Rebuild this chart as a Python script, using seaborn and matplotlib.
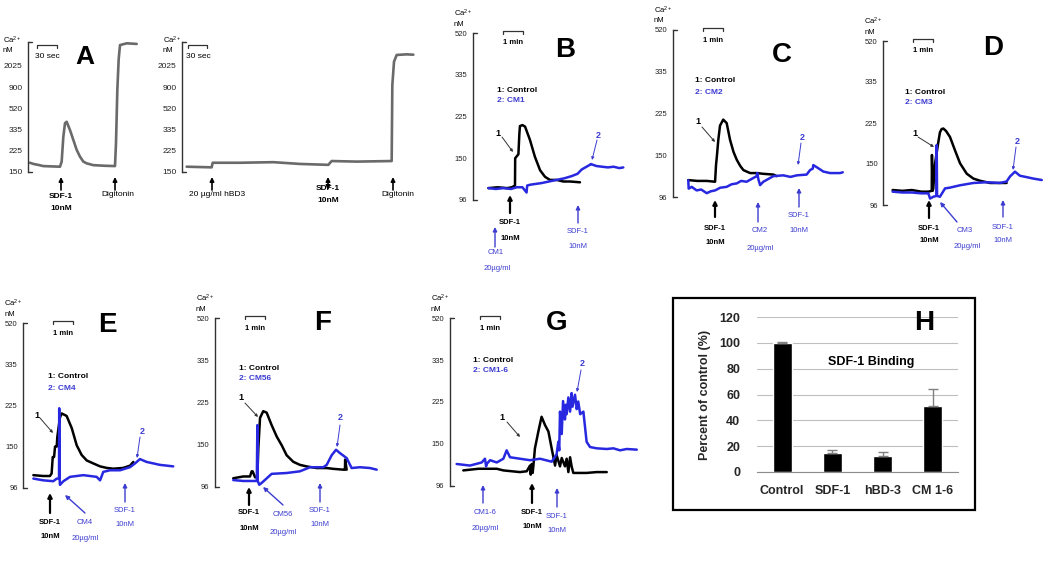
import numpy as np
import matplotlib
matplotlib.use("Agg")
import matplotlib.pyplot as plt
import seaborn as sns
from matplotlib.patches import FancyArrowPatch, Rectangle
from matplotlib.lines import Line2D

sns.set_style("white")
plt.rcParams['font.family'] = ['Liberation Sans', 'DejaVu Sans']
plt.rcParams['mathtext.default'] = 'regular'

BLUE = '#2828e0'
TBLUE = '#3c3cd0'

# ---- data (time, Ca2+ nM) ----
# panel A: time in seconds
A1_t = [3, 8, 15, 23, 35, 48, 50.5, 53, 55.5, 58, 63, 68, 73, 78, 83, 88, 98, 115, 130.5, 132, 134, 136, 138, 148, 163]
A1_ca = [179, 175, 172, 168, 167, 166, 183, 293, 382, 394, 332, 276, 229, 201, 183, 177, 171, 169, 168, 260, 838, 2600, 4450, 4760, 4650]
A2_t = [7, 25, 44.5, 46, 87, 137, 177, 219.5, 224.5, 262, 314.5, 315.5, 318, 322, 337, 347]
A2_ca = [166, 165, 164, 179, 179, 181, 175, 172, 185, 183, 185, 976, 2375, 3068, 3140, 3100]

# panels B-G: time in minutes
B_ctrl_t = [0.81, 1.3, 1.8, 2.04, 2.21, 2.22, 2.39, 2.44, 2.47, 2.6, 2.74, 3.0, 3.26, 3.53, 3.79, 4.05, 4.4, 4.75, 5.1, 5.63]
B_ctrl_ca = [109, 110, 109, 110, 112, 150, 156, 190, 205, 207, 204, 179, 152, 132, 123, 119, 119, 117, 117, 116]
B_cm_t = [0.81, 1.2, 1.6, 2.0, 2.3, 2.6, 2.82, 2.85, 3.0, 3.3, 3.6, 4.0, 4.4, 4.8, 5.2, 5.5, 5.72, 6.16, 6.2, 6.5, 6.8, 7.1, 7.4, 7.7, 7.91]
B_cm_ca = [109, 108, 109, 108, 110, 110, 104, 112, 113, 114, 115, 117, 119, 121, 124, 127, 133, 140, 141, 138, 137, 136, 137, 135, 136]

C_ctrl_t = [0.82, 1.3, 1.8, 2.23, 2.28, 2.33, 2.4, 2.49, 2.66, 2.84, 3.02, 3.2, 3.37, 3.55, 3.72, 4.07, 4.42, 4.77, 5.3, 5.47]
C_ctrl_ca = [115, 114, 114, 113, 135, 150, 174, 200, 212, 205, 174, 155, 143, 134, 128, 124, 124, 123, 122, 120]
C_cm_t = [0.82, 0.84, 1.0, 1.26, 1.5, 1.79, 2.0, 2.23, 2.5, 2.84, 3.1, 3.37, 3.6, 3.89, 4.42, 4.45, 4.51, 4.6, 4.77, 5.3, 5.82, 6.2, 6.53, 7.05, 7.23, 7.37, 7.4, 7.58, 7.93, 8.28, 8.81, 8.95]
C_cm_ca = [115, 105, 107, 103, 104, 100, 102, 103, 106, 107, 110, 111, 114, 113, 120, 124, 116, 109, 113, 120, 121, 119, 121, 122, 128, 130, 135, 132, 126, 124, 124, 125]

D_ctrl_t = [0.49, 1.0, 1.5, 2.0, 2.37, 2.55, 2.56, 2.6, 2.63, 2.72, 2.89, 2.98, 3.07, 3.16, 3.3, 3.51, 3.77, 4.04, 4.39, 4.74, 5.09, 5.62, 6.14, 6.49]
D_ctrl_ca = [113, 112, 113, 111, 111, 112, 164, 112, 115, 150, 185, 205, 212, 213, 208, 196, 172, 151, 135, 128, 125, 122, 122, 122]
D_cm_t = [0.49, 1.0, 1.5, 2.0, 2.37, 2.46, 2.63, 2.8, 2.81, 2.83, 2.98, 3.25, 3.51, 4.04, 4.74, 5.44, 6.14, 6.49, 6.67, 6.93, 7.19, 7.55, 7.89, 8.34]
D_cm_ca = [111, 110, 110, 109, 109, 103, 105, 106, 181, 106, 105, 115, 116, 119, 122, 123, 122, 124, 131, 138, 132, 130, 128, 126]

E_ctrl_t = [0.53, 1.05, 1.4, 1.49, 1.55, 1.62, 1.67, 1.76, 1.79, 1.93, 2.02, 2.28, 2.55, 2.81, 3.07, 3.34, 3.68, 4.04, 4.39, 4.74, 5.26, 5.62, 5.79]
E_ctrl_ca = [110, 109, 109, 112, 134, 134, 150, 150, 165, 200, 208, 203, 180, 152, 137, 129, 125, 121, 119, 118, 119, 122, 127]
E_cm_t = [0.53, 1.05, 1.58, 1.76, 1.88, 1.89, 1.91, 1.93, 2.11, 2.46, 2.81, 3.16, 3.51, 3.86, 4.04, 4.21, 4.56, 5.09, 5.62, 5.88, 6.14, 6.49, 6.84, 7.19, 7.55, 7.89]
E_cm_ca = [106, 104, 103, 106, 106, 219, 106, 99, 103, 108, 109, 110, 109, 108, 104, 114, 116, 116, 120, 125, 131, 127, 125, 123, 122, 121]

F_ctrl_t = [0.96, 1.49, 1.84, 1.93, 1.98, 2.11, 2.23, 2.28, 2.37, 2.54, 2.72, 2.98, 3.25, 3.51, 3.77, 4.12, 4.47, 4.83, 5.35, 5.88, 6.23, 6.75, 6.84, 6.85, 6.93]
F_ctrl_ca = [105, 107, 107, 113, 113, 106, 107, 144, 194, 207, 204, 181, 162, 149, 134, 125, 121, 119, 117, 117, 116, 115, 115, 128, 115]
F_cm_t = [0.96, 1.49, 1.84, 2.2, 2.23, 2.25, 2.33, 2.46, 2.98, 3.77, 4.47, 5.0, 5.7, 5.88, 6.14, 6.37, 6.58, 6.93, 7.19, 7.63, 8.16, 8.51]
F_cm_ca = [103, 102, 102, 102, 181, 102, 98, 100, 110, 111, 113, 118, 118, 121, 134, 142, 137, 130, 117, 118, 117, 115]

G_ctrl_t = [0.7, 1.5, 2.46, 2.81, 3.68, 4.04, 4.21, 4.25, 4.3, 4.35, 4.39, 4.47, 4.65, 4.82, 5.0, 5.18, 5.35, 5.53, 5.61, 5.79, 5.88, 6.05, 6.14, 6.23, 6.32, 6.4, 6.49, 6.67, 7.19, 7.72, 8.25]
G_ctrl_ca = [113, 115, 115, 113, 111, 112, 119, 108, 121, 110, 119, 143, 169, 195, 180, 169, 143, 119, 133, 118, 129, 118, 128, 111, 130, 118, 110, 110, 110, 111, 111]
G_cm_t = [0.35, 1.05, 1.67, 1.84, 1.9, 1.93, 2.11, 2.46, 2.81, 2.98, 3.16, 3.68, 4.21, 4.74, 5.35, 5.61, 5.7, 5.75, 5.79, 5.88, 5.95, 6.05, 6.1, 6.14, 6.23, 6.32, 6.4, 6.45, 6.58, 6.67, 6.75, 6.85, 7.02, 7.19, 7.37, 7.72, 8.25, 8.6, 8.95, 9.3, 9.83]
G_cm_ca = [121, 119, 123, 128, 118, 121, 126, 123, 128, 140, 130, 128, 126, 128, 124, 134, 153, 140, 205, 165, 227, 190, 219, 200, 235, 205, 245, 215, 241, 210, 226, 200, 205, 153, 145, 143, 142, 143, 140, 142, 141]

# panel H
h_labels = ['Control', 'SDF-1', 'hBD-3', 'CM 1-6']
h_values = [100, 15, 12.5, 51]
h_err = [0.3, 2, 3, 13]

A_ticks = [150, 225, 335, 520, 900, 2025]
A_anchor = [150, 225, 335, 520, 900, 2025, 4500, 10000]
BG_ticks = [96, 150, 225, 335, 520]

W, H = 1050, 568
fig = plt.figure(figsize=(W / 100, H / 100), dpi=100)


def fx(x):
    return x / W


def fy(y):
    return 1 - y / H


def txt(x, y, s, color='black', size=5.5, weight='normal', ha='center'):
    fig.text(fx(x), fy(y), s, color=color, fontsize=size, fontweight=weight, ha=ha, va='center')


def arrow(x1, y1, x2, y2, color='black', lw=1.2, style='-|>', ms=6):
    fig.add_artist(FancyArrowPatch((fx(x1), fy(y1)), (fx(x2), fy(y2)), transform=fig.transFigure,
                                   arrowstyle=style, mutation_scale=ms, color=color, lw=lw,
                                   shrinkA=0, shrinkB=0))


def bracket(x1, x2, y):
    fig.add_artist(Line2D([fx(x1), fx(x1), fx(x2), fx(x2)], [fy(y + 3), fy(y), fy(y), fy(y + 3)],
                          transform=fig.transFigure, color='#333333', lw=0.9))


def trace_axes(left, top, bottom, width, xmax, anchors, ticks, ylim, fs=5.5):
    ax = fig.add_axes([fx(left), fy(bottom), width / W, (bottom - top) / H])
    la = np.log(anchors)
    idx = np.arange(len(anchors), dtype=float)
    fwd = lambda v: np.interp(np.log(np.clip(v, 1, None)), la, idx)
    inv = lambda i: np.exp(np.interp(i, idx, la))
    ax.set_yscale('function', functions=(fwd, inv))
    ax.set_ylim(*ylim)
    ax.set_xlim(0, xmax)
    ax.set_yticks(ticks)
    ax.set_yticklabels([str(t) for t in ticks])
    ax.yaxis.set_minor_locator(matplotlib.ticker.NullLocator())
    ax.set_xticks([])
    for s in ['top', 'right', 'bottom']:
        ax.spines[s].set_visible(False)
    ax.spines['left'].set_color('#333333')
    ax.spines['left'].set_linewidth(1)
    ax.tick_params(axis='y', direction='out', length=3, width=0.8, color='#333333',
                   labelsize=fs, labelcolor='#222222', pad=1)
    ax.patch.set_alpha(0)
    foot = 4 / width
    ax.plot([0, foot], [1, 1], transform=ax.transAxes, color='#333333', lw=1, clip_on=False)
    ax.plot([0, foot], [0, 0], transform=ax.transAxes, color='#333333', lw=1, clip_on=False)
    ax.set_xlabel('')
    ax.set_ylabel('')
    return ax


def trace(ax, t, ca, color, lw=1.8):
    sns.lineplot(x=t, y=ca, ax=ax, color=color, lw=lw, sort=False, estimator=None, legend=False)
    for ln in ax.lines:
        ln.set_clip_on(False)
    ax.set_xlabel('')
    ax.set_ylabel('')


def ca_label(x, y):
    txt(x, y, r'Ca$^{2+}$', size=5.5, ha='left')
    txt(x, y + 11, 'nM', size=5.5, ha='left')


# ---- panel A ----
axA1 = trace_axes(28, 42, 172, 113, 113 * 1.5, A_anchor, A_ticks, (150, 5000), fs=6)
trace(axA1, A1_t, A1_ca, '#6a6a6a', lw=1.9)
axA2 = trace_axes(182, 42, 172, 235, 235 * 1.5, A_anchor, A_ticks, (150, 5000), fs=6)
trace(axA2, A2_t, A2_ca, '#6a6a6a', lw=1.9)
ca_label(3, 40)
ca_label(163, 40)
bracket(37, 57, 45)
txt(47, 57, '30 sec', size=6)
bracket(188, 207, 45)
txt(198, 57, '30 sec', size=6)
txt(85, 57, 'A', size=19, weight='bold')
arrow(61, 190, 61, 177)
txt(61, 196, 'SDF-1', weight='bold', size=6)
txt(61, 209, '10nM', weight='bold', size=6)
arrow(115, 190, 115, 177)
txt(118, 195, 'Digitonin', size=6)
arrow(212, 190, 212, 177)
txt(217, 195, '20 µg/ml hBD3', size=6)
arrow(328, 190, 328, 177, style='<|-|>')
txt(328, 188, 'SDF-1', weight='bold', size=6)
txt(328, 200, '10nM', weight='bold', size=6)
arrow(393, 190, 393, 177)
txt(398, 195, 'Digitonin', size=6)

# ---- panels B-G ----
panels = [
    # letter, left, top, bottom, width, ctrl, cm, name, letter pos, legend pos
    ('B', 473, 33, 200, 160, (B_ctrl_t, B_ctrl_ca), (B_cm_t, B_cm_ca), 'CM1', (565, 50), (497, 90)),
    ('C', 672.7, 30, 197, 172, (C_ctrl_t, C_ctrl_ca), (C_cm_t, C_cm_ca), 'CM2', (782, 55), (695, 81)),
    ('D', 883.3, 41, 205, 162, (D_ctrl_t, D_ctrl_ca), (D_cm_t, D_cm_ca), 'CM3', (993, 48), (905, 92)),
    ('E', 23.3, 323.3, 487.7, 152, (E_ctrl_t, E_ctrl_ca), (E_cm_t, E_cm_ca), 'CM4', (107, 325), (48, 377)),
    ('F', 215, 318.3, 486.7, 164, (F_ctrl_t, F_ctrl_ca), (F_cm_t, F_cm_ca), 'CM56', (323, 323), (239, 368)),
    ('G', 450, 318.3, 485.7, 190, (G_ctrl_t, G_ctrl_ca), (G_cm_t, G_cm_ca), 'CM1-6', (557, 323), (473, 360)),
]
for letter, left, top, bottom, width, ctrl, cm, name, lpos, gpos in panels:
    ax = trace_axes(left, top, bottom, width, width / 19, BG_ticks, BG_ticks, (96, 520))
    trace(ax, ctrl[0], ctrl[1], 'black')
    trace(ax, cm[0], cm[1], BLUE)
    ca_label(left - 19, top - 20)
    txt(lpos[0], lpos[1], letter, size=20, weight='bold')
    txt(gpos[0], gpos[1], '1: Control', size=6, weight='bold', ha='left')
    txt(gpos[0], gpos[1] + 11, '2: ' + name, size=6, weight='bold', ha='left', color=TBLUE)
    bracket(left + 30, left + 50, top - 2)
    txt(left + 40, top + 10, '1 min', size=5.5, weight='bold')

# "1"/"2" pointers
for (x, y, x1, y1, x2, y2) in [(498, 133, 502, 137, 513, 152), (698, 122, 702, 127, 715, 142),
                               (915, 133, 918, 137, 934, 147), (37, 415, 40, 418, 53, 433),
                               (241, 398, 245, 403, 258, 417), (502, 417, 507, 422, 520, 437)]:
    txt(x, y, '1', size=6.5, weight='bold', color='black')
    arrow(x1, y1, x2, y2, color='#333333', lw=0.7, ms=4)
for (x, y, x1, y1, x2, y2) in [(598, 135, 597, 140, 592, 160), (802, 138, 801, 143, 798, 165),
                               (1017, 142, 1016, 147, 1013, 170), (142, 432, 140, 437, 137, 458),
                               (340, 418, 340, 425, 337, 447), (582, 363, 581, 370, 577, 392)]:
    txt(x, y, '2', size=6.5, weight='bold', color=TBLUE)
    arrow(x1, y1, x2, y2, color=TBLUE, lw=0.7, ms=4)

# stimulus arrows under traces
stim = [
    (510, 213, 510, 195, 'black', (510, 223), (510, 239), 'SDF-1', '10nM'),
    (495, 247, 495, 227, TBLUE, (496, 253), (497, 268), 'CM1', '20µg/ml'),
    (578, 223, 578, 205, TBLUE, (578, 231), (578, 247), 'SDF-1', '10nM'),
    (715, 217, 715, 200, 'black', (715, 229), (715, 243), 'SDF-1', '10nM'),
    (758, 222, 758, 202, TBLUE, (760, 230), (760, 248), 'CM2', '20µg/ml'),
    (799, 207, 799, 188, TBLUE, (799, 216), (799, 230), 'SDF-1', '10nM'),
    (929, 218, 929, 200, 'black', (929, 228), (929, 241), 'SDF-1', '10nM'),
    (957, 222, 940, 202, TBLUE, (965, 230), (967, 247), 'CM3', '20µg/ml'),
    (1003, 217, 1003, 200, TBLUE, (1003, 227), (1003, 241), 'SDF-1', '10nM'),
    (50, 513, 50, 493, 'black', (50, 522), (50, 536), 'SDF-1', '10nM'),
    (85, 513, 65, 495, TBLUE, (85, 523), (85, 538), 'CM4', '20µg/ml'),
    (125, 502, 125, 483, TBLUE, (125, 510), (125, 524), 'SDF-1', '10nM'),
    (249, 505, 249, 487, 'black', (249, 513), (249, 528), 'SDF-1', '10nM'),
    (283, 505, 263, 487, TBLUE, (283, 515), (283, 532), 'CM56', '20µg/ml'),
    (320, 502, 320, 483, TBLUE, (320, 510), (320, 524), 'SDF-1', '10nM'),
    (483, 503, 483, 485, TBLUE, (485, 513), (485, 529), 'CM1-6', '20µg/ml'),
    (532, 503, 532, 483, 'black', (532, 512), (532, 527), 'SDF-1', '10nM'),
    (557, 507, 557, 488, TBLUE, (557, 516), (557, 531), 'SDF-1', '10nM'),
]
for xt, yt, xh, yh, col, p1, p2, s1, s2 in stim:
    lw = 1.6 if col == 'black' else 1.0
    arrow(xt, yt, xh, yh, color=col, lw=lw, ms=6)
    txt(p1[0], p1[1], s1, color=col, size=5.5, weight='bold' if col == 'black' else 'normal')
    txt(p2[0], p2[1], s2, color=col, size=5.5, weight='bold' if col == 'black' else 'normal')

# ---- panel H ----
fig.add_artist(Rectangle((fx(673), fy(510)), (975 - 673) / W, (510 - 298) / H, transform=fig.transFigure,
                         fill=False, edgecolor='black', lw=1.6))
axH = fig.add_axes([fx(757), fy(472), 201 / W, (472 - 317) / H])
sns.barplot(x=h_labels, y=h_values, ax=axH, color='black', width=0.38, saturation=1, errorbar=None)
axH.errorbar(range(len(h_values)), h_values, yerr=[[0] * len(h_err), h_err], fmt='none',
             ecolor='#808080', elinewidth=1, capsize=3.5, capthick=1)
axH.set_ylim(0, 120)
axH.set_xlim(-0.5, 3.5)
axH.set_yticks(range(0, 121, 20))
axH.yaxis.grid(True, color='#bfbfbf', lw=0.8)
axH.set_axisbelow(True)
for s in ['top', 'right', 'left']:
    axH.spines[s].set_visible(False)
axH.spines['bottom'].set_color('#8c8c8c')
axH.set_xticks([-0.5, 0.5, 1.5, 2.5, 3.5], minor=True)
axH.tick_params(axis='x', which='minor', length=4, color='#8c8c8c', direction='out')
axH.tick_params(axis='x', which='major', length=0, pad=9, labelsize=9)
axH.tick_params(axis='y', length=0, pad=12, labelsize=9)
for lab in axH.get_xticklabels() + axH.get_yticklabels():
    lab.set_fontweight('bold')
axH.set_ylabel('Percent of control (%)', fontsize=9, fontweight='bold', labelpad=6)
axH.set_xlabel('')
axH.patch.set_alpha(0)
txt(871, 362, 'SDF-1 Binding', size=9, weight='bold')
txt(924, 323, 'H', size=20, weight='bold')

fig.savefig('out.png', dpi=100)
